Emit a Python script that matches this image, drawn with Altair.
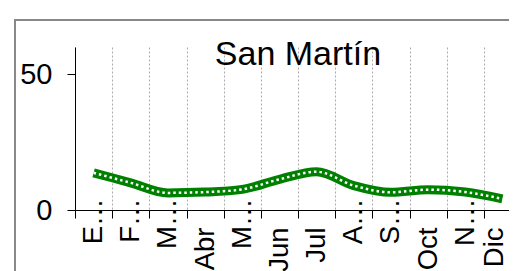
import altair as alt
import pandas as pd

months = ["Ene", "Feb", "Mar", "Abr", "May", "Jun", "Jul", "Ago", "Sep", "Oct", "Nov", "Dic"]
shown_labels = ["E…", "F…", "M…", "Abr", "M…", "Jun", "Jul", "A…", "S…", "Oct", "N…", "Dic"]
values = [13.7, 10.0, 6.3, 6.6, 7.6, 11.3, 14.1, 9.0, 6.5, 7.5, 6.6, 4.1]
y_ticks = [0, 50]
title_text = "San Martín"

truncated = [m for m, s in zip(months, shown_labels) if s.endswith("…")]

df = pd.DataFrame({"mes": months, "valor": values})
single_df = pd.DataFrame({"k": [0]})

W, H = 434, 163      # visible plot area (page is 517 px wide)
X_SPAN = 446         # full band range, runs past the right edge as in the reference
FONT = "Liberation Sans"

months_js = "[" + ",".join(f"'{m}'" for m in months) + "]"
shown_js = "[" + ",".join(f"'{s}'" for s in shown_labels) + "]"
trunc_js = "[" + ",".join(f"'{m}'" for m in truncated) + "]"

x_enc = alt.X(
    "mes:N",
    sort=months,
    scale=alt.Scale(type="band", paddingInner=0, paddingOuter=0, range=[0, X_SPAN]),
    axis=alt.Axis(
        title=None,
        labelAngle=270,
        labelAlign="right",
        labelBaseline="middle",
        labelFontSize=27.5,
        labelFont=FONT,
        labelColor="black",
        labelExpr=f"{shown_js}[indexof({months_js}, datum.value)]",
        labelPadding={"condition": {"test": f"indexof({trunc_js}, datum.value) >= 0", "value": -20}, "value": 9},
        labelOffset={"condition": {"test": f"datum.value == '{months[-1]}'", "value": -8}, "value": 0},
        labelOverlap=False,
        labelLimit=0,
        tickBand="extent",
        tickSize=8,
        tickColor="black",
        domainColor="black",
        grid=True,
        gridColor="#aaaaaa",
        gridDash=[2, 2],
        gridWidth=1,
    ),
)

y_enc = alt.Y(
    "valor:Q",
    scale=alt.Scale(domain=[0, 60], nice=False),
    axis=alt.Axis(
        title=None,
        values=y_ticks,
        grid=False,
        labelFontSize=29,
        labelFont=FONT,
        labelColor="black",
        labelPadding=15,
        tickSize=8,
        tickColor="black",
        domainColor="black",
    ),
)

frame = alt.Chart(single_df).mark_rect(
    fill="transparent", stroke="#888888", strokeWidth=2
).encode(
    x=alt.value(-60), x2=alt.value(1200), y=alt.value(-27), y2=alt.value(1200)
)

title_mark = alt.Chart(single_df).mark_text(
    fontSize=34, font=FONT, color="black", align="center", baseline="alphabetic"
).encode(
    x=alt.value(X_SPAN / 2), y=alt.value(18), text=alt.value(title_text)
)

base = alt.Chart(df).encode(x=x_enc, y=y_enc)
green = base.mark_line(color="#008000", strokeWidth=9, interpolate="monotone")
dots = base.mark_line(color="white", strokeWidth=2.5, strokeDash=[2.5, 3], interpolate="monotone")

chart = alt.layer(frame, title_mark, green, dots).properties(
    width=W,
    height=H,
    autosize=alt.AutoSizeParams(type="none"),
    padding={"left": 67, "top": 39, "right": 0, "bottom": 70},
).configure_view(stroke="transparent")

chart.save("out.html", embed_options={"renderer": "svg", "actions": False})
